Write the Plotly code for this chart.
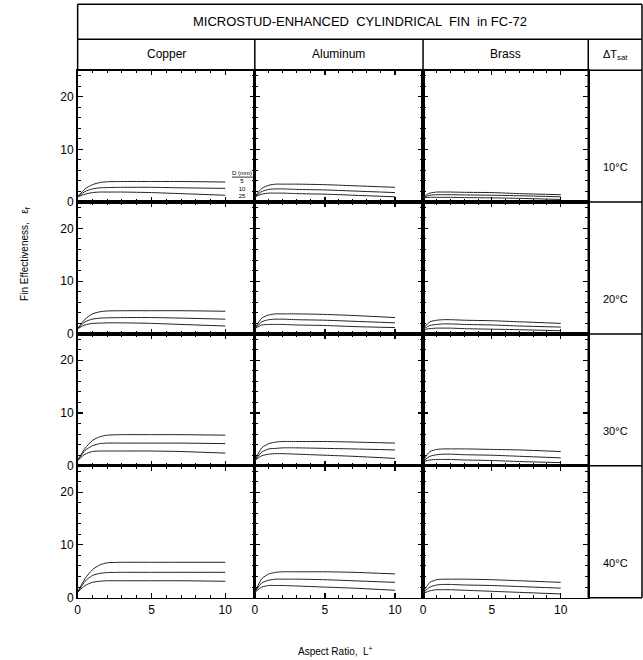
import plotly.graph_objects as go

# ---------------- data ----------------
materials = ["Copper", "Aluminum", "Brass"]
dt_labels = ["10°C", "20°C", "30°C", "40°C"]
diam_labels = ["5", "10", "25"]
aspect_ratio = [0, 0.5, 1, 1.5, 2, 3, 5, 7, 10]

# effectiveness for D = 5, 10, 25 mm
cu_10 = [[1.0, 2.5, 3.3, 3.7, 3.85, 3.9, 3.9, 3.9, 3.8],
         [1.0, 2.0, 2.5, 2.7, 2.75, 2.8, 2.8, 2.7, 2.6],
         [1.0, 1.5, 1.8, 1.9, 1.9, 1.9, 1.8, 1.6, 1.3]]
al_10 = [[1.0, 2.6, 3.2, 3.4, 3.4, 3.4, 3.3, 3.1, 2.8],
         [1.0, 2.0, 2.4, 2.5, 2.5, 2.4, 2.3, 2.1, 1.8],
         [1.0, 1.5, 1.7, 1.7, 1.7, 1.6, 1.5, 1.3, 1.0]]
br_10 = [[1.0, 1.7, 1.9, 1.9, 1.9, 1.85, 1.8, 1.6, 1.4],
         [0.9, 1.3, 1.4, 1.4, 1.4, 1.35, 1.3, 1.2, 1.0],
         [0.8, 0.9, 0.9, 0.9, 0.9, 0.85, 0.8, 0.7, 0.5]]

cu_20 = [[1.0, 2.8, 3.8, 4.2, 4.35, 4.4, 4.4, 4.4, 4.3],
         [1.0, 2.3, 2.8, 3.0, 3.05, 3.1, 3.1, 3.0, 2.8],
         [1.0, 1.7, 2.0, 2.05, 2.1, 2.1, 2.0, 1.8, 1.5]]
al_20 = [[1.0, 3.0, 3.6, 3.8, 3.8, 3.8, 3.7, 3.5, 3.1],
         [1.0, 2.3, 2.7, 2.8, 2.8, 2.7, 2.6, 2.4, 2.1],
         [1.0, 1.7, 1.8, 1.8, 1.8, 1.7, 1.6, 1.4, 1.2]]
br_20 = [[1.0, 2.3, 2.6, 2.7, 2.7, 2.6, 2.5, 2.3, 2.0],
         [0.9, 1.6, 1.8, 1.9, 1.9, 1.8, 1.7, 1.5, 1.3],
         [0.8, 1.0, 1.1, 1.1, 1.1, 1.0, 0.9, 0.8, 0.6]]

cu_30 = [[1.0, 3.3, 4.8, 5.5, 5.8, 5.9, 5.9, 5.9, 5.8],
         [1.0, 2.9, 3.8, 4.2, 4.3, 4.3, 4.3, 4.3, 4.2],
         [1.0, 2.2, 2.7, 2.8, 2.8, 2.8, 2.8, 2.7, 2.4]]
al_30 = [[1.0, 3.4, 4.2, 4.5, 4.6, 4.6, 4.6, 4.5, 4.3],
         [1.0, 2.6, 3.2, 3.3, 3.4, 3.4, 3.3, 3.2, 3.0],
         [1.0, 1.9, 2.2, 2.3, 2.3, 2.2, 2.0, 1.8, 1.4]]
br_30 = [[1.0, 2.7, 3.1, 3.2, 3.2, 3.2, 3.1, 3.0, 2.7],
         [0.9, 1.8, 2.1, 2.2, 2.2, 2.1, 2.0, 1.8, 1.5],
         [0.8, 1.1, 1.2, 1.2, 1.2, 1.1, 1.0, 0.8, 0.6]]

cu_40 = [[1.0, 3.6, 5.3, 6.2, 6.6, 6.7, 6.7, 6.7, 6.7],
         [1.0, 3.1, 4.2, 4.6, 4.75, 4.8, 4.8, 4.8, 4.8],
         [1.0, 2.3, 2.9, 3.1, 3.2, 3.2, 3.2, 3.2, 3.1]]
al_40 = [[1.0, 3.6, 4.5, 4.8, 4.9, 4.9, 4.9, 4.8, 4.5],
         [1.0, 2.8, 3.3, 3.5, 3.5, 3.5, 3.4, 3.2, 2.9],
         [1.0, 2.0, 2.3, 2.3, 2.3, 2.2, 2.0, 1.8, 1.4]]
br_40 = [[1.0, 2.9, 3.4, 3.5, 3.5, 3.5, 3.4, 3.2, 2.9],
         [0.9, 2.0, 2.4, 2.5, 2.5, 2.4, 2.3, 2.1, 1.8],
         [0.8, 1.3, 1.5, 1.5, 1.5, 1.4, 1.2, 1.0, 0.7]]

panels = [[cu_10, al_10, br_10],
          [cu_20, al_20, br_20],
          [cu_30, al_30, br_30],
          [cu_40, al_40, br_40]]

x_major = [0, 5, 10]
x_minor = [1, 2, 3, 4, 6, 7, 8, 9]
y_major = [0, 10, 20]
y_minor = [2, 4, 6, 8, 12, 14, 16, 18, 22, 24]

# ---------------- layout geometry (pixels) ----------------
W, H = 643, 660
col_px = [(75, 253), (253, 422), (422, 588)]
row_px = [(69, 201), (201, 333), (333, 465), (465, 597)]
FONT = "Liberation Sans, Arial, Helvetica, sans-serif"


def px(x):
    return x / W


def py(y):
    yy = (y + 1.3) / 0.9905
    return max(0.0, 1 - yy / H)


fig = go.Figure()
layout = {}
for r in range(4):
    for c in range(3):
        i = r * 3 + c + 1
        xa = "x" if i == 1 else f"x{i}"
        ya = "y" if i == 1 else f"y{i}"
        for k, ys in enumerate(panels[r][c]):
            fig.add_trace(go.Scatter(
                x=aspect_ratio, y=ys, mode="lines",
                line=dict(color="#222", width=1, shape="spline", smoothing=0.6),
                xaxis=xa, yaxis=ya, showlegend=False, hoverinfo="skip"))
        x0, x1 = col_px[c]
        y0, y1 = row_px[r]
        layout[f"xaxis{'' if i == 1 else i}"] = dict(
            domain=[px(x0), px(x1)], anchor=ya, range=[0, 12],
            tickmode="array", tickvals=x_major,
            ticktext=[str(v) for v in x_major],
            showticklabels=(r == 3),
            ticks="inside", ticklen=5, tickwidth=1.2, tickcolor="black",
            minor=dict(tickmode="array", tickvals=x_minor, ticks="inside",
                       ticklen=3, tickwidth=1, tickcolor="black"),
            showline=True, linecolor="black", linewidth=1.6, mirror="ticks",
            showgrid=False, zeroline=False,
            tickfont=dict(family=FONT, size=12, color="black"))
        layout[f"yaxis{'' if i == 1 else i}"] = dict(
            domain=[py(y1), py(y0)], anchor=xa, range=[0, 25],
            tickmode="array", tickvals=y_major,
            ticktext=[str(v) for v in y_major],
            showticklabels=(c == 0),
            ticks="inside", ticklen=5, tickwidth=1.2, tickcolor="black",
            minor=dict(tickmode="array", tickvals=y_minor, ticks="inside",
                       ticklen=3, tickwidth=1, tickcolor="black"),
            showline=True, linecolor="black", linewidth=1.6, mirror="ticks",
            showgrid=False, zeroline=False,
            tickfont=dict(family=FONT, size=12, color="black"))

fig.update_layout(**layout)

# ---------------- frame lines ----------------
shapes = []


def hline(y, xa, xb, w=1.5):
    shapes.append(dict(type="line", xref="paper", yref="paper",
                       x0=px(xa), x1=px(xb), y0=py(y), y1=py(y),
                       line=dict(color="black", width=w)))


def vline(x, ya, yb, w=1.5):
    shapes.append(dict(type="line", xref="paper", yref="paper",
                       x0=px(x), x1=px(x), y0=py(ya), y1=py(yb),
                       line=dict(color="black", width=w)))


hline(3, 75, 642)
hline(38, 75, 642)
hline(69, 75, 642)
vline(75, 3, 69)
vline(642, 3, 597)
for xv in (253, 422):
    vline(xv, 38, 69)
vline(588, 38, 597)
for yv in (201, 333, 465, 597):
    hline(yv, 588, 642)
# underline of the "D (mm)" legend heading
hline(176, 230, 251, w=0.8)

# ---------------- texts ----------------
ann = []


def text(x, y, s, size=11, **kw):
    ann.append(dict(xref="paper", yref="paper", x=px(x), y=py(y), text=s,
                    showarrow=False, font=dict(family=FONT, size=size, color="black"),
                    xanchor=kw.pop("xanchor", "center"), yanchor=kw.pop("yanchor", "middle"), **kw))


text(359, 20, "MICROSTUD-ENHANCED  CYLINDRICAL  FIN  in FC-72", size=13)
for name, (a, b) in zip(materials, col_px):
    text((a + b) / 2, 53, name, size=12)
text(615, 54, "ΔT<sub>sat</sub>", size=11)
for lab, (a, b) in zip(dt_labels, row_px):
    text(615, a + 97, lab, size=11)

# D (mm) key in first panel (one block, tightly stacked)
text(240, 183.5, "D (mm)<br>" + "<br>".join(diam_labels), size=6)

text(22, 253, "Fin Effectiveness,   ε<sub>f</sub>", size=10, textangle=-90)
text(334, 650, "Aspect Ratio,  L<sup>+</sup>", size=10)

fig.update_layout(width=W, height=H, margin=dict(l=0, r=0, t=0, b=0),
                  paper_bgcolor="white", plot_bgcolor="white",
                  shapes=shapes, annotations=ann, showlegend=False)

css = ("var d=document.documentElement,b=document.body;"
       "d.style.margin='0';d.style.padding='0';d.style.overflow='hidden';d.style.height='660px';"
       "b.style.margin='0';b.style.padding='0';b.style.overflow='hidden';b.style.height='660px';"
       "var g=document.getElementsByClassName('plotly-graph-div')[0];"
       "if(g&&g.parentNode){g.parentNode.style.height='660px';g.parentNode.style.overflow='hidden';"
       "g.parentNode.style.lineHeight='0';g.style.display='block';}")

fig.write_html("out.html", config={"displayModeBar": False, "staticPlot": True},
               post_script=css)
